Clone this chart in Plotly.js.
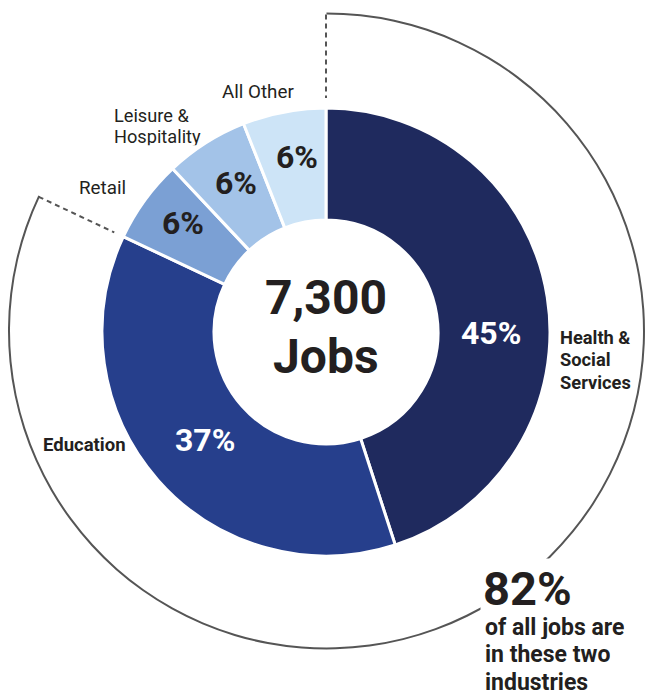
<!DOCTYPE html>
<html>
<head>
<meta charset="utf-8">
<script src="https://cdn.plot.ly/plotly-3.0.1.min.js"></script>
<style>
  html, body { margin: 0; padding: 0; background: #ffffff; }
  #chart { width: 647px; height: 696px; }
</style>
</head>
<body>
<div id="chart"></div>
<script>
// ---- Data ----
const industries = ['Health & Social Services', 'Education', 'Retail', 'Leisure & Hospitality', 'All Other'];
const shares = [45, 37, 6, 6, 6];
const totalJobs = '7,300';
const highlightCount = 2; // Health & Social Services + Education

// ---- Styles ----
const sliceColors = ['#1f2a5e', '#263f8c', '#7ba0d4', '#a3c3e8', '#cde4f7'];
const sliceTextColors = ['#ffffff', '#ffffff', '#231f20', '#231f20', '#231f20'];
// pixel positions of the percentage labels inside each slice
const sliceTextPos = [[491, 333], [205, 440], [183, 223], [236, 183], [297, 157]];
const ink = '#231f20';
const arcColor = '#555555';

const W = 647, H = 696;
const px = x => x / W;
const py = y => 1 - y / H;

// donut geometry (pixels)
const cx = 326, cy = 332, R = 224;
// outer bracket arc
const acx = 326.5, acy = 331, AR = 318.5;

const total = shares.reduce((a, b) => a + b, 0);
const groupShare = shares.slice(0, highlightCount).reduce((a, b) => a + b, 0);

const donut = {
  type: 'pie',
  values: shares,
  labels: industries,
  sort: false,
  direction: 'clockwise',
  rotation: 0,
  hole: 0.5,
  domain: { x: [px(cx - R), px(cx + R)], y: [py(cy + R), py(cy - R)] },
  marker: { colors: sliceColors, line: { color: '#ffffff', width: 3 } },
  textinfo: 'none',
  hoverinfo: 'none',
  showlegend: false
};

const ring = {
  type: 'pie',
  values: [groupShare, total - groupShare],
  labels: ['highlight', 'rest'],
  sort: false,
  direction: 'clockwise',
  rotation: 0,
  hole: 1 - 2 / AR,
  domain: { x: [px(acx - AR), px(acx + AR)], y: [py(acy + AR), py(acy - AR)] },
  marker: { colors: [arcColor, 'rgba(0,0,0,0)'], line: { width: 0 } },
  textinfo: 'none',
  hoverinfo: 'none',
  showlegend: false
};

// dashed connectors at the start and end of the highlighted group
function pt(angleDeg, r) {
  const a = angleDeg * Math.PI / 180;
  return [px(cx + r * Math.sin(a)), py(cy - r * Math.cos(a))];
}
const connectorAngles = [0, groupShare / total * 360];
const shapes = connectorAngles.map(ang => {
  const p0 = pt(ang, AR - 1), p1 = pt(ang, R + 10);
  return {
    type: 'line', xref: 'paper', yref: 'paper',
    x0: p0[0], y0: p0[1], x1: p1[0], y1: p1[1],
    line: { color: arcColor, width: 2, dash: '5px,4px' }
  };
});

const F = 'Roboto, sans-serif';
function label(text, x, y, size, bold, opts) {
  return Object.assign({
    text: text, xref: 'paper', yref: 'paper', x: px(x), y: py(y),
    xanchor: 'left', yanchor: 'middle', showarrow: false, align: 'left',
    font: { family: F, size: size, color: ink, weight: bold ? 700 : 400 }
  }, opts || {});
}
// multi-line label drawn one line at a time with a fixed line spacing
function lines(textLines, x, yFirst, spacing, size, bold) {
  return textLines.map((t, i) => label(t, x, yFirst + i * spacing, size, bold,
    { height: Math.min(spacing - 1, size), valign: 'middle', borderpad: 0 }));
}

const sliceLabels = shares.map((v, i) => label(v + '%', sliceTextPos[i][0], sliceTextPos[i][1], 32, true,
  { xanchor: 'center', font: { family: F, size: 32, color: sliceTextColors[i], weight: 700 } }));

const annotations = [].concat(
  sliceLabels,
  [label('All Other', 220, 92, 18.8, false)],
  lines(['Leisure &', 'Hospitality'], 113, 115.5, 20.5, 18.2, false),
  [label('Retail', 77, 188, 18.8, false)],
  [label('Education', 41, 445, 18.5, true)],
  lines(['Health &', 'Social', 'Services'], 559, 337, 22.5, 18.3, true),
  [label(totalJobs, cx, 298, 48, true, { xanchor: 'center' }),
   label('Jobs', cx, 356, 48, true, { xanchor: 'center' }),
   label('82%', 480, 588, 47, true, { bgcolor: '#ffffff', borderpad: 2 })],
  lines(['of all jobs are', 'in these two', 'industries'], 484, 627, 27.5, 23, true)
);

const layout = {
  width: W, height: H,
  margin: { l: 0, r: 0, t: 0, b: 0 },
  paper_bgcolor: '#ffffff',
  plot_bgcolor: '#ffffff',
  showlegend: false,
  shapes: shapes,
  annotations: annotations,
  font: { family: F }
};

Plotly.newPlot('chart', [ring, donut], layout, { displayModeBar: false, staticPlot: true });
</script>
</body>
</html>
